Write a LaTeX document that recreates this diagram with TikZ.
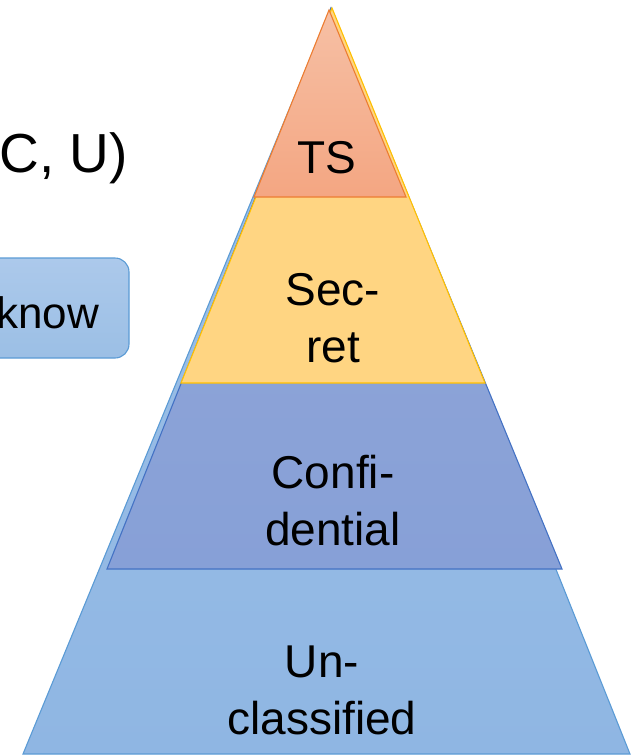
\documentclass[tikz,border=0pt]{standalone}
\usepackage{fontspec}
\setmainfont{Liberation Sans}
\definecolor{ublue}{RGB}{91,155,213}
\definecolor{ufillA}{RGB}{160,195,232}
\definecolor{ufillB}{RGB}{143,182,227}
\definecolor{cblue}{RGB}{68,114,196}
\definecolor{cfillA}{RGB}{148,168,216}
\definecolor{cfillB}{RGB}{135,160,215}
\definecolor{sgold}{RGB}{255,192,0}
\definecolor{sfill}{RGB}{255,213,130}
\definecolor{tsorange}{RGB}{237,125,49}
\definecolor{tsfillA}{RGB}{246,192,165}
\definecolor{tsfillB}{RGB}{244,166,130}
\definecolor{kfillA}{RGB}{172,201,235}
\definecolor{kfillB}{RGB}{155,191,229}
\begin{document}
\begin{tikzpicture}[x=1pt,y=-1pt,
  layer/.style={line width=1.1pt, line join=miter},
  lbl/.style={font=\fontsize{46}{57}\selectfont, align=center, inner sep=0pt, text=black}]
\useasboundingbox (0,0) rectangle (632,756);
% Unclassified (full triangle)
\path[layer, draw=ublue, top color=ufillA, bottom color=ufillB]
  (331,8) -- (630,754) -- (23,754) -- cycle;
% Confidential
\path[layer, draw=cblue, top color=cfillA, bottom color=cfillB]
  (331,8) -- (562,569) -- (107,569) -- cycle;
% Secret
\path[layer, draw=sgold, fill=sfill]
  (332,8) -- (485,383) -- (181,383) -- cycle;
% TS
\path[layer, draw=tsorange, top color=tsfillA, bottom color=tsfillB]
  (329,10) -- (406,197) -- (254,197) -- cycle;
% labels
\node[lbl] (ts) at (327,158) {TS};
\node[lbl] (sec) at (333,318) {Sec-\\ret};
\node[lbl] (conf) at (333,501) {Confi-\\dential};
\node[lbl] (uncl) at (322,690) {Un-\\classified};
% left side text
\node[font=\fontsize{55}{64}\selectfont, anchor=base east, inner sep=0pt] (levels) at (128,172) {C, U)};
\path[line width=1.1pt, draw=ublue, top color=kfillA, bottom color=kfillB, rounded corners=14pt]
  (-30,258) rectangle (129,358);
\node[font=\fontsize{44}{52}\selectfont, anchor=base east, inner sep=0pt] (know) at (99,328) {know};
\end{tikzpicture}
\end{document}
